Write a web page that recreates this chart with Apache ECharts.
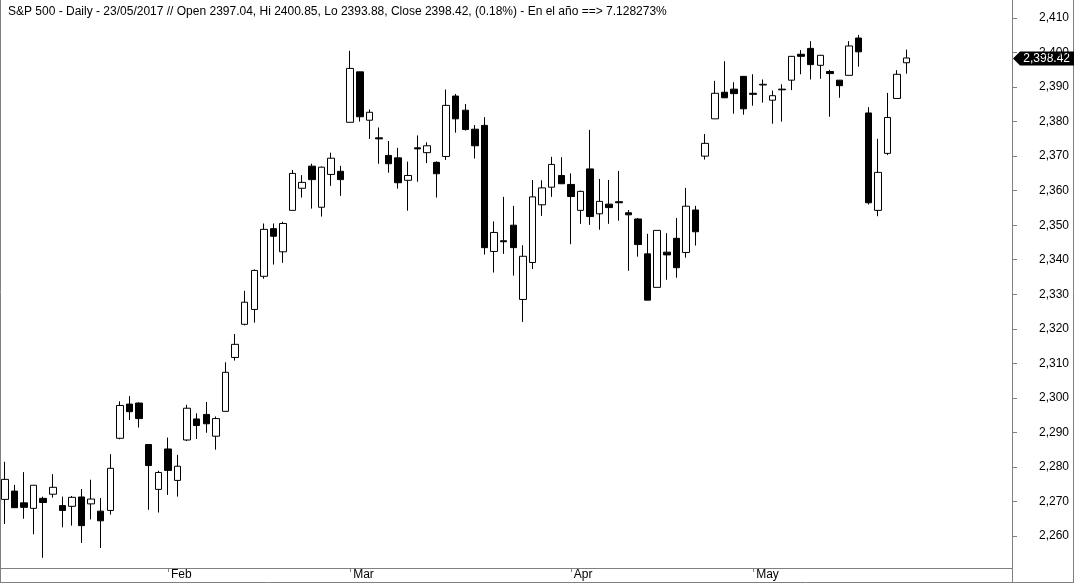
<!DOCTYPE html>
<html>
<head>
<meta charset="utf-8">
<script src="https://cdn.jsdelivr.net/npm/echarts/dist/echarts.min.js"></script>
<style>
html,body{margin:0;padding:0;background:#fff;}
#c{width:1074px;height:583px;}
</style>
</head>
<body>
<div id="c"></div>
<script>
// ---- data (S&P 500 daily) ----
const dates = [
 '2017-01-06','2017-01-09','2017-01-10','2017-01-11','2017-01-12','2017-01-13','2017-01-17','2017-01-18','2017-01-19','2017-01-20',
 '2017-01-23','2017-01-24','2017-01-25','2017-01-26','2017-01-27','2017-01-30','2017-01-31',
 '2017-02-01','2017-02-02','2017-02-03','2017-02-06','2017-02-07','2017-02-08','2017-02-09','2017-02-10','2017-02-13','2017-02-14',
 '2017-02-15','2017-02-16','2017-02-17','2017-02-21','2017-02-22','2017-02-23','2017-02-24','2017-02-27','2017-02-28',
 '2017-03-01','2017-03-02','2017-03-03','2017-03-06','2017-03-07','2017-03-08','2017-03-09','2017-03-10','2017-03-13','2017-03-14',
 '2017-03-15','2017-03-16','2017-03-17','2017-03-20','2017-03-21','2017-03-22','2017-03-23','2017-03-24','2017-03-27','2017-03-28',
 '2017-03-29','2017-03-30','2017-03-31',
 '2017-04-03','2017-04-04','2017-04-05','2017-04-06','2017-04-07','2017-04-10','2017-04-11','2017-04-12','2017-04-13','2017-04-17',
 '2017-04-18','2017-04-19','2017-04-20','2017-04-21','2017-04-24','2017-04-25','2017-04-26','2017-04-27','2017-04-28',
 '2017-05-01','2017-05-02','2017-05-03','2017-05-04','2017-05-05','2017-05-08','2017-05-09','2017-05-10','2017-05-11','2017-05-12',
 '2017-05-15','2017-05-16','2017-05-17','2017-05-18','2017-05-19','2017-05-22','2017-05-23'
];
const opens = [
 2270.6,2273.0,2269.6,2268.0,2270.9,2272.1,2268.8,2268.6,2271.3,2269.3,
 2267.2,2267.4,2288.3,2298.2,2298.5,2286.5,2273.5,
 2285.2,2276.1,2287.8,2293.9,2295.2,2288.9,2296.1,2311.7,2321.3,2325.6,
 2335.2,2349.0,2342.3,2354.3,2360.7,2367.1,2355.2,2364.7,2365.6,
 2379.8,2394.4,2380.4,2375.3,2370.2,2369.5,2363.0,2372.4,2371.0,2368.2,
 2369.9,2387.4,2383.3,2377.8,2378.9,2342.4,2345.5,2350.0,2328.5,2339.2,
 2355.9,2361.0,2364.4,
 2361.8,2354.3,2366.3,2353.3,2356.1,2356.8,2353.6,2351.8,2341.7,2332.0,
 2342.2,2346.2,2342.1,2354.4,2370.0,2380.8,2388.5,2389.4,2393.1,
 2388.2,2390.6,2386.2,2389.4,2392.0,2399.5,2401.2,2396.3,2394.5,2392.0,
 2393.4,2404.2,2382.5,2354.3,2370.8,2386.7,2397.04
];
const closes = [
 2276.4,2268.2,2268.3,2274.7,2269.7,2274.1,2267.4,2271.2,2263.0,2270.7,
 2264.4,2279.6,2297.8,2296.0,2294.0,2280.4,2278.4,
 2279.0,2280.2,2297.0,2292.0,2292.5,2294.0,2307.4,2315.5,2327.7,2336.9,
 2348.8,2346.8,2350.5,2365.0,2362.4,2363.2,2366.8,2369.4,2363.2,
 2395.4,2381.4,2382.7,2375.0,2367.8,2362.3,2364.4,2372.1,2373.0,2364.9,
 2384.7,2380.8,2377.7,2373.0,2343.5,2347.9,2345.2,2343.5,2341.0,2358.2,
 2360.8,2367.6,2362.0,
 2358.3,2359.8,2352.5,2356.9,2355.1,2356.5,2353.0,2344.4,2328.3,2348.5,
 2341.4,2337.7,2355.5,2348.1,2373.7,2388.2,2386.9,2388.1,2383.7,
 2387.9,2390.8,2387.5,2389.2,2398.9,2398.9,2396.5,2399.2,2393.9,2390.4,
 2401.9,2400.2,2356.5,2365.3,2381.2,2393.7,2398.42
];
const lows = [
 2263.5,2268.2,2265.0,2260.5,2253.7,2271.1,2262.5,2263.0,2258.0,2264.8,
 2256.5,2266.2,2288.0,2293.6,2291.4,2267.6,2266.8,
 2271.9,2271.4,2287.5,2288.1,2289.9,2285.0,2296.0,2310.8,2321.0,2321.8,
 2334.5,2338.6,2339.1,2354.3,2358.0,2354.8,2352.5,2361.4,2358.5,
 2379.8,2380.0,2375.0,2367.8,2365.2,2360.6,2354.2,2362.6,2368.0,2358.0,
 2368.9,2376.8,2377.4,2369.3,2341.5,2336.3,2341.7,2335.4,2322.0,2337.3,
 2352.7,2358.2,2362.0,
 2344.5,2350.4,2350.1,2348.7,2350.4,2351.3,2336.8,2340.9,2328.3,2332.0,
 2334.2,2334.8,2340.6,2344.1,2369.0,2380.8,2386.8,2382.3,2382.0,
 2384.6,2385.5,2379.4,2380.0,2389.1,2393.7,2392.2,2392.4,2381.4,2386.9,
 2393.4,2395.9,2356.0,2352.6,2370.3,2386.7,2393.88
];
const highs = [
 2281.5,2274.8,2278.5,2274.7,2271.4,2277.9,2271.4,2271.6,2273.6,2276.3,
 2271.0,2283.7,2299.0,2300.5,2298.7,2286.5,2278.9,
 2288.5,2283.5,2298.0,2295.5,2298.8,2294.6,2310.3,2318.5,2331.0,2337.2,
 2350.5,2350.5,2351.0,2366.0,2364.5,2367.8,2367.0,2371.0,2367.2,
 2400.5,2394.4,2383.5,2378.3,2374.4,2372.4,2368.4,2376.0,2374.0,2368.5,
 2389.3,2388.0,2385.1,2379.0,2381.3,2351.1,2358.2,2355.6,2344.2,2363.1,
 2363.0,2369.8,2369.7,
 2365.0,2360.0,2377.6,2363.4,2363.1,2365.7,2354.4,2352.1,2347.5,2348.5,
 2347.7,2352.1,2360.8,2355.6,2376.4,2391.8,2397.5,2391.4,2393.1,
 2393.7,2392.2,2389.0,2390.8,2399.0,2400.7,2403.3,2399.3,2395.0,2392.0,
 2403.3,2405.1,2384.2,2375.0,2388.3,2394.9,2400.85
];
const monthNames = ['Jan','Feb','Mar','Apr','May','Jun','Jul','Aug','Sep','Oct','Nov','Dec'];
const yMin = 2260, yMax = 2410, yStep = 10;
const emptySlots = 11;
const titleText = 'S&P 500 - Daily - 23/05/2017 // Open 2397.04, Hi 2400.85, Lo 2393.88, Close 2398.42, (0.18%) - En el año ==> 7.128273%';

// ---- build ----
const cats = dates.slice();
for (let i = 0; i < emptySlots; i++) cats.push('pad' + i);
const candles = dates.map((d, i) => [opens[i], closes[i], lows[i], highs[i]]);
function isMonthStart(i) {
  return i > 0 && i < dates.length && dates[i].slice(5, 7) !== dates[i - 1].slice(5, 7);
}
const FONT = "'Liberation Sans', Arial, sans-serif";
const GRAY = '#808080';

const chart = echarts.init(document.getElementById('c'), null, {renderer: 'canvas'});
chart.setOption({
  animation: false,
  backgroundColor: '#fff',
  title: {
    text: titleText, left: 3, top: 1,
    textStyle: {fontSize: 12, fontWeight: 'normal', color: '#000', fontFamily: FONT}
  },
  grid: [
    {left: 0, top: 18, width: 1017, height: 518},
    {left: 0, top: 18, width: 1012, height: 518}
  ],
  xAxis: [
    {
      type: 'category', gridIndex: 0, data: cats, boundaryGap: true, offset: 32,
      axisLine: {show: false},
      axisTick: {show: true, alignWithLabel: true, interval: (i) => isMonthStart(i), length: 4, lineStyle: {color: GRAY}},
      axisLabel: {
        interval: (i) => isMonthStart(i),
        formatter: (v) => monthNames[parseInt(v.slice(5, 7), 10) - 1],
        align: 'left', margin: 1, padding: [0, 0, 0, 3],
        fontSize: 12, color: '#000', fontFamily: FONT
      },
      splitLine: {show: false}
    },
    {type: 'category', gridIndex: 1, data: cats, show: false}
  ],
  yAxis: [
    {type: 'value', gridIndex: 0, min: yMin, max: yMax, interval: yStep, show: false, splitLine: {show: false}},
    {
      type: 'value', gridIndex: 1, position: 'right', min: yMin, max: yMax, interval: yStep,
      axisLine: {show: false},
      axisTick: {show: true, length: 5, lineStyle: {color: GRAY}},
      axisLabel: {
        margin: 27, fontSize: 12, color: '#000', fontFamily: FONT,
        formatter: (v) => v.toLocaleString('en-US')
      },
      splitLine: {show: false}
    }
  ],
  series: [{
    type: 'candlestick', xAxisIndex: 0, yAxisIndex: 0,
    data: candles, barWidth: 7, clip: false,
    itemStyle: {color: '#fff', color0: '#000', borderColor: '#000', borderColor0: '#000', borderWidth: 1}
  }]
});

// frame lines and last-price tag (tag position via library's scale)
const lastClose = closes[closes.length - 1];
const ty = Math.round(chart.convertToPixel({yAxisIndex: 1}, lastClose)) + 0.5;
const axX = chart.convertToPixel({gridIndex: 1}, [cats.length - 1, yMax]);
chart.setOption({
  graphic: [
    {type: 'line', silent: true, shape: {x1: 0.5, y1: 0, x2: 0.5, y2: 583}, style: {stroke: GRAY, lineWidth: 1}},
    {type: 'line', silent: true, shape: {x1: 1012.5, y1: 0, x2: 1012.5, y2: 583}, style: {stroke: GRAY, lineWidth: 1}},
    {type: 'line', silent: true, shape: {x1: 1073.5, y1: 0, x2: 1073.5, y2: 583}, style: {stroke: GRAY, lineWidth: 1}},
    {type: 'line', silent: true, shape: {x1: 0, y1: 568.5, x2: 1012, y2: 568.5}, style: {stroke: GRAY, lineWidth: 1}},
    {type: 'line', silent: true, shape: {x1: 0, y1: 582.5, x2: 1074, y2: 582.5}, style: {stroke: GRAY, lineWidth: 1}},
    {type: 'polygon', silent: true, shape: {points: [[1013, ty], [1020, ty - 7], [1074, ty - 7], [1074, ty + 7], [1020, ty + 7]]}, style: {fill: '#000'}},
    {type: 'text', silent: true, x: 1070, y: ty, style: {text: lastClose.toLocaleString('en-US', {minimumFractionDigits: 2}), fill: '#fff', font: '12px ' + FONT, textAlign: 'right', textVerticalAlign: 'middle'}}
  ]
});
</script>
</body>
</html>
